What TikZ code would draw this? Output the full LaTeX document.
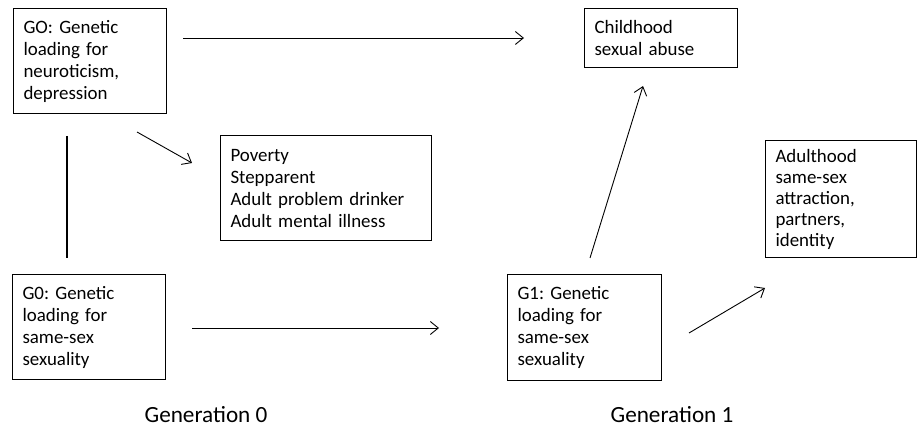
\documentclass[tikz,border=0pt]{standalone}
\usepackage{fontspec}
\setmainfont{Carlito}
\usetikzlibrary{arrows.meta}
\frenchspacing
\begin{document}
\begin{tikzpicture}[x=1pt,y=-1pt,
  box/.style={draw, line width=1pt, inner xsep=10.5pt, inner ysep=0pt, align=left,
    font=\frenchspacing\fontsize{18.9}{22}\selectfont},
  arr/.style={line width=0.9pt, -{Straight Barb[length=8pt,width=13pt,line width=0.9pt]}},
  lbl/.style={font=\fontsize{23.2}{26}\selectfont}]
\useasboundingbox (0,0) rectangle (917,427);
\node[box, text width=132pt, minimum height=105pt] (go) at (89.5,61.5)
  {GO: Genetic\\loading for\\neuroticism,\\depression};
\node[box, text width=132pt, minimum height=59pt] (csa) at (660.5,38.5)
  {Childhood\\sexual abuse};
\node[box, text width=190pt, minimum height=105pt] (pov) at (325.5,188.5)
  {Poverty\\Stepparent\\Adult problem drinker\\Adult mental illness};
\node[box, text width=130pt, minimum height=117pt, font=\frenchspacing\fontsize{18.9}{20.8}\selectfont] (adult) at (840.5,199.5)
  {Adulthood\\same-sex\\attraction,\\partners,\\identity};
\node[box, text width=132pt, minimum height=104pt] (g0) at (88.5,327)
  {G0: Genetic\\loading for\\same-sex\\sexuality};
\node[box, text width=133pt, minimum height=105pt] (g1) at (584,327.5)
  {G1: Genetic\\loading for\\same-sex\\sexuality};
\node[lbl] (gen0) at (206,415) {Generation 0};
\node[lbl] (gen1) at (672,415) {Generation 1};
% connector ends
\coordinate (a1s) at (183,38);  \coordinate (a1e) at (524,38);
\coordinate (a2s) at (137,132); \coordinate (a2e) at (192,163);
\coordinate (a3s) at (192,328); \coordinate (a3e) at (439,328);
\coordinate (a4s) at (590,258); \coordinate (a4e) at (643,86);
\coordinate (a5s) at (689,333); \coordinate (a5e) at (765,288);
\coordinate (ls) at (67,136);   \coordinate (le) at (67,258);
\draw[arr] (a1s) -- (a1e);
\draw[arr] (a2s) -- (a2e);
\draw[arr] (a3s) -- (a3e);
\draw[arr] (a4s) -- (a4e);
\draw[arr] (a5s) -- (a5e);
\draw[line width=2.2pt] (ls) -- (le);
\end{tikzpicture}
\end{document}
